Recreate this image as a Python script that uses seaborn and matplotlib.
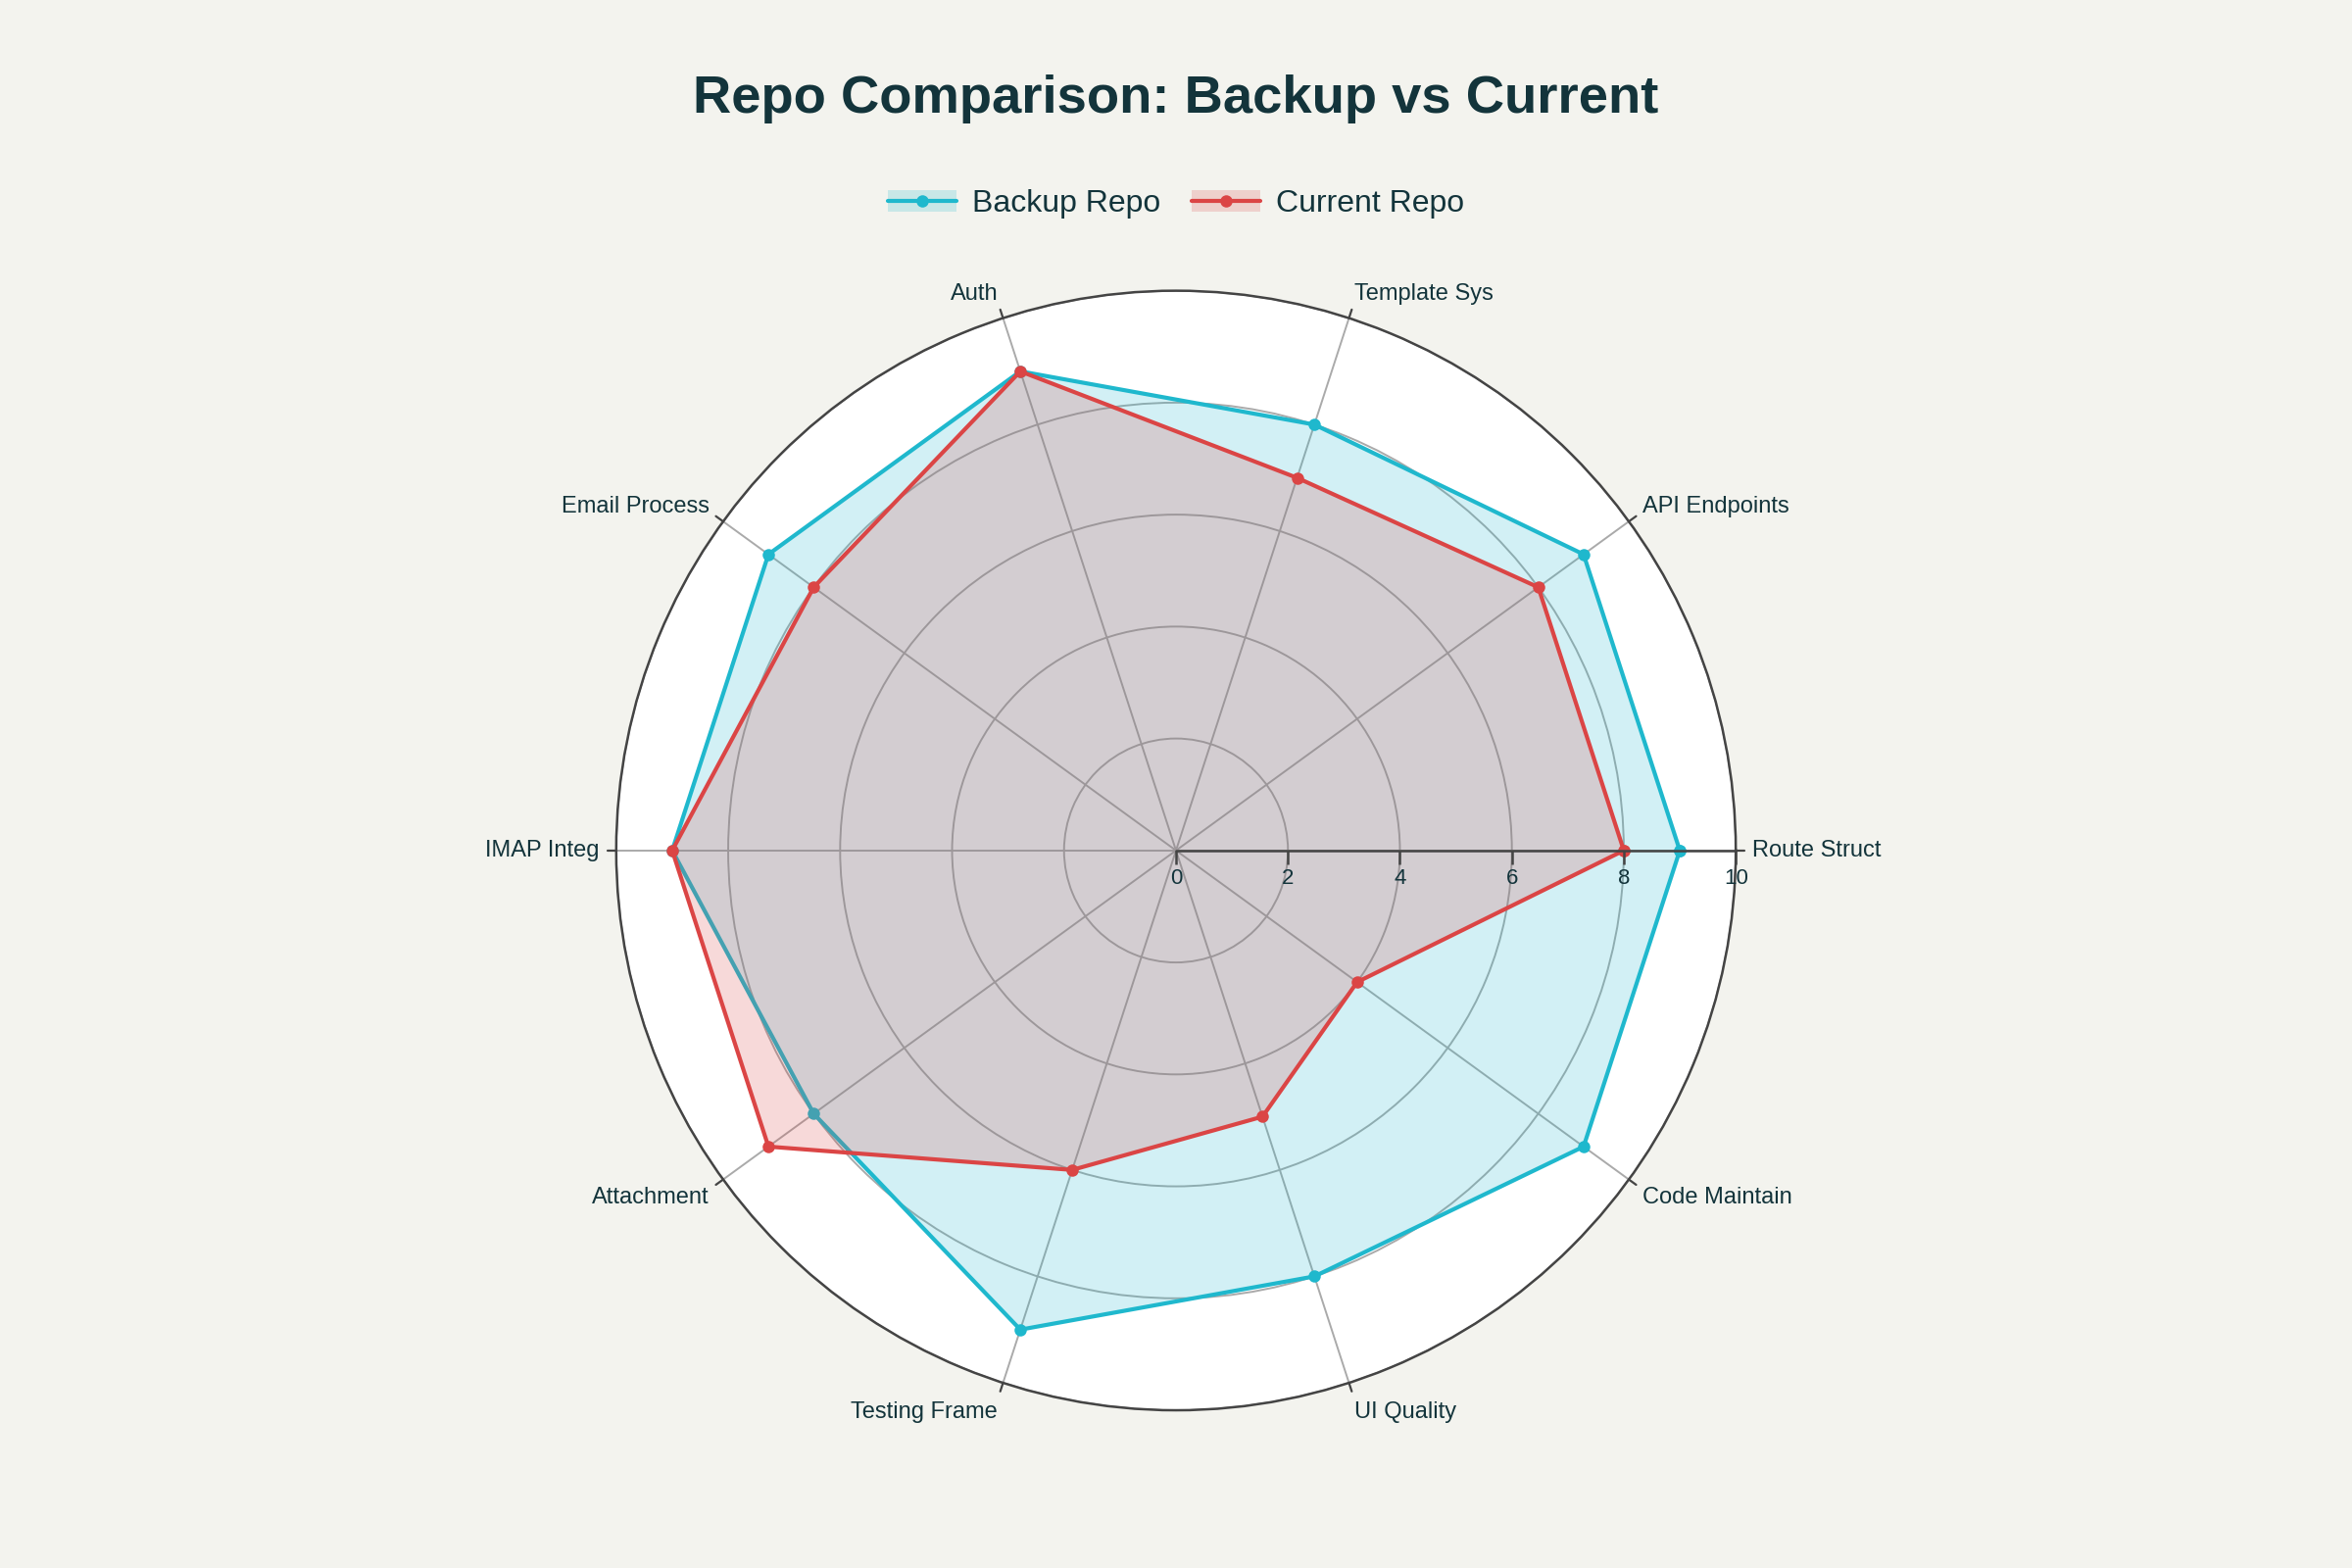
import numpy as np
import pandas as pd
import matplotlib
matplotlib.use('Agg')
import matplotlib.pyplot as plt
import seaborn as sns
from matplotlib.lines import Line2D
from matplotlib.patches import Patch
from matplotlib.legend_handler import HandlerTuple

categories = ['Route Struct', 'API Endpoints', 'Template Sys', 'Auth', 'Email Process',
              'IMAP Integ', 'Attachment', 'Testing Frame', 'UI Quality', 'Code Maintain']
backup_values = [9, 9, 8, 9, 9, 9, 8, 9, 8, 9]
current_values = [8, 8, 7, 9, 8, 9, 9, 6, 5, 4]
series_names = ['Backup Repo', 'Current Repo']
radial_ticks = [0, 2, 4, 6, 8, 10]
title = 'Repo Comparison: Backup vs Current'

sns.set_theme(style='white')
plt.rcParams['font.family'] = ['Liberation Sans', 'DejaVu Sans']

BG = '#F3F3EE'
TXT = '#13343B'
CYAN = '#1FB8CD'
RED = '#DB4545'
DARK = '#444444'
palette = {'Backup Repo': CYAN, 'Current Repo': RED}

fig = plt.figure(figsize=(12, 8), dpi=200, facecolor=BG)
ax = fig.add_axes([0.262, 0.1006, 0.476, 0.714], projection='polar')
ax.set_facecolor('white')

n = len(categories)
theta = np.arange(n) * 2 * np.pi / n
rows = []
for name, vals in zip(series_names, [backup_values, current_values]):
    for i in list(range(n)) + [0]:
        rows.append({'series': name, 'theta': theta[i], 'value': vals[i]})
df = pd.DataFrame(rows)

z = 2
for name in series_names:
    sub = df[df.series == name]
    ax.fill(sub.theta, sub.value, color=palette[name], alpha=0.2, lw=0, zorder=z)
    sns.lineplot(data=sub, x='theta', y='value', color=palette[name], sort=False,
                 estimator=None, marker='o', markersize=4.5, markeredgewidth=0,
                 linewidth=1.5, ax=ax, zorder=z + 1, legend=False)
    z += 2

ax.set_ylim(0, 10)
ax.set_yticks(radial_ticks)
ax.set_yticklabels([])
ax.set_xticks(theta)
ax.set_xticklabels([])
ax.set_xlabel('')
ax.set_ylabel('')
ax.grid(True, color='#AAAAAA', lw=0.7)
ax.set_axisbelow(True)
ax.spines['polar'].set_color(DARK)
ax.spines['polar'].set_linewidth(0.9)

# outward angular ticks at the outer circle
rmax = radial_ticks[-1]
for th in theta:
    ax.plot([th, th], [rmax, rmax * 1.016], color=DARK, lw=0.8, clip_on=False, zorder=10)

# radial axis line with outward ticks
ax.plot([0] * len(radial_ticks), radial_ticks, color=DARK, lw=0.9, marker=3,
        markersize=5, markeredgewidth=0.9, zorder=10, clip_on=False)
for r in radial_ticks:
    ax.annotate(str(r), xy=(0, r), xytext=(0, -6.5), textcoords='offset points',
                ha='center', va='top', fontsize=8, color=TXT, zorder=11)

for th, cat in zip(theta, categories):
    c, s = np.cos(th), np.sin(th)
    ha = 'left' if c > 0.01 else ('right' if c < -0.01 else 'center')
    yfac = 9.3 if s > 0 else 11.5
    ax.annotate(cat, xy=(th, rmax), xytext=(c * 6.2, s * yfac), textcoords='offset points',
                ha=ha, va='center', fontsize=8.5, color=TXT, annotation_clip=False)

handles = [(Patch(facecolor=palette[nm], alpha=0.2, lw=0),
            Line2D([], [], color=palette[nm], marker='o', lw=1.5, ms=4.5, mew=0))
           for nm in series_names]
fig.legend(handles, series_names, handler_map={tuple: HandlerTuple(ndivide=1)},
           loc='center', bbox_to_anchor=(0.5, 0.870), ncol=2, frameon=False,
           fontsize=11.5, labelcolor=TXT, handlelength=2.2, columnspacing=1.0,
           handletextpad=0.5)

fig.text(0.5, 0.937, title, ha='center', va='center', fontsize=19.6,
         fontweight='bold', color=TXT)

fig.savefig('out.png', dpi=200, facecolor=BG)
